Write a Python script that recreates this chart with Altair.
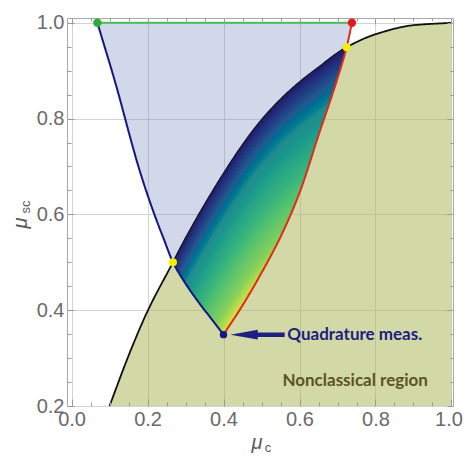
import altair as alt
import numpy as np
import pandas as pd

# ---------------- data ----------------
# black boundary of the nonclassical region
black_x = [0.100, 0.150, 0.200, 0.267, 0.300, 0.350, 0.400, 0.450, 0.500, 0.550, 0.600, 0.650, 0.724, 0.800, 0.900, 1.000]
black_y = [0.200, 0.305, 0.398, 0.500, 0.550, 0.620, 0.685, 0.745, 0.797, 0.840, 0.876, 0.907, 0.949, 0.976, 0.995, 1.000]
# blue curve (left branch)
blue_x = [0.068, 0.087, 0.106, 0.124, 0.141, 0.158, 0.176, 0.196, 0.218, 0.242, 0.267, 0.298, 0.333, 0.368, 0.400]
blue_y = [1.000, 0.950, 0.900, 0.850, 0.800, 0.750, 0.700, 0.650, 0.600, 0.550, 0.500, 0.458, 0.418, 0.382, 0.349]
# red curve (right branch)
red_x = [0.400, 0.450, 0.500, 0.550, 0.600, 0.650, 0.700, 0.724, 0.738]
red_y = [0.349, 0.410, 0.478, 0.553, 0.645, 0.765, 0.884, 0.949, 1.000]
# green top segment
green_x = [0.068, 0.738]
green_y = [1.000, 1.000]
# marked points
point_x = [0.068, 0.738, 0.267, 0.724, 0.400]
point_y = [1.000, 1.000, 0.500, 0.949, 0.349]
point_col = ["#2eaa3a", "#e3191c", "#f4ee00", "#f4ee00", "#10188a"]
point_size = [70, 70, 64, 64, 55]
# annotations
arrow_tail = [0.561]
arrow_base = [0.470]
arrow_head = [0.454]
arrow_y = [0.349]
label_text = ["Quadrature meas.", "Nonclassical region"]
label_x = [0.568, 0.555]
label_y = [0.349, 0.252]
label_col = ["#1c2080", "#5a5424"]
# axes
x_major = [0.0, 0.2, 0.4, 0.6, 0.8, 1.0]
y_major = [0.2, 0.4, 0.6, 0.8, 1.0]
x_minor = [0.05, 0.1, 0.15, 0.25, 0.3, 0.35, 0.45, 0.5, 0.55, 0.65, 0.7, 0.75, 0.85, 0.9, 0.95]
y_minor = [0.25, 0.3, 0.35, 0.45, 0.5, 0.55, 0.65, 0.7, 0.75, 0.85, 0.9, 0.95]
# colour map of the shaded wedge (dark at the black boundary -> yellow)
cmap_pos = [0.0, 0.07, 0.16, 0.28, 0.45, 0.65, 0.85, 0.95, 1.0]
cmap_col = ["#1d1864", "#23337f", "#26578d", "#228a8d", "#28a585", "#4cbf72", "#86d05a", "#c6df45", "#e8e63f"]


def pchip(xs, ys, xq):
    xs = np.asarray(xs, float); ys = np.asarray(ys, float); xq = np.asarray(xq, float)
    h = np.diff(xs); dl = np.diff(ys) / h
    n = len(xs); m = np.zeros(n)
    m[0] = dl[0]; m[-1] = dl[-1]
    for k in range(1, n - 1):
        if dl[k - 1] * dl[k] <= 0:
            m[k] = 0.0
        else:
            w1 = 2 * h[k] + h[k - 1]; w2 = h[k] + 2 * h[k - 1]
            m[k] = (w1 + w2) / (w1 / dl[k - 1] + w2 / dl[k])
    idx = np.clip(np.searchsorted(xs, xq) - 1, 0, n - 2)
    t = (xq - xs[idx]) / h[idx]
    h00 = 2 * t**3 - 3 * t**2 + 1; h10 = t**3 - 2 * t**2 + t
    h01 = -2 * t**3 + 3 * t**2; h11 = t**3 - t**2
    return h00 * ys[idx] + h10 * h[idx] * m[idx] + h01 * ys[idx + 1] + h11 * h[idx] * m[idx + 1]


def black(x):
    return pchip(black_x, black_y, x)


def lower(x):
    x = np.asarray(x, float)
    return np.where(x <= 0.4, pchip(blue_x, blue_y, np.minimum(x, 0.4)), pchip(red_x, red_y, np.maximum(x, 0.4)))


# tables
xs = np.linspace(black_x[0], black_x[-1], 260)
df_black = pd.DataFrame({"x": xs, "y": black(xs)})
df_olive = pd.DataFrame({"x": xs, "y": black(xs), "y2": 0.2})
xs = np.linspace(blue_x[0], blue_x[-1], 220)
df_blue = pd.DataFrame({"x": xs, "y": pchip(blue_x, blue_y, xs)})
xs = np.linspace(red_x[0], red_x[-1], 180)
df_red = pd.DataFrame({"x": xs, "y": pchip(red_x, red_y, xs)})
xs = np.linspace(green_x[0], red_x[-1], 300)
df_bluefill = pd.DataFrame({"x": xs, "y": lower(xs), "y2": 1.0})

xs = np.linspace(0.267, 0.724, 170)
bl = black(xs)
lo = np.minimum(lower(xs), bl)
D = 0.345
N = 60
rows = []
for k in range(N):
    d0 = k * D / N
    d1 = (k + 1) * D / N
    eps = 0.002 if k > 0 else 0.0
    top = np.clip(bl - d0 + eps, lo, bl)
    bot = lo if k == N - 1 else np.clip(bl - d1, lo, bl)
    for xi, a, b in zip(xs, bot, top):
        rows.append((xi, a, b, k, 0.5 * (d0 + d1)))
df_grad = pd.DataFrame(rows, columns=["x", "y", "y2", "band", "d"])

df_pts = pd.DataFrame({"x": point_x, "y": point_y, "c": point_col, "s": point_size})
df_green = pd.DataFrame({"x": green_x, "y": green_y})
df_arrow = pd.DataFrame({"x": arrow_base, "x2": arrow_tail, "y": arrow_y})
df_head = pd.DataFrame({"x": arrow_head, "y": arrow_y})
df_lab = pd.DataFrame({"t": label_text, "x": label_x, "y": label_y, "c": label_col})
one = pd.DataFrame({"a": [0]})

# ---------------- scales / axes ----------------
xsc = alt.Scale(domain=[-0.012, 1.004], nice=False, zero=False)
ysc = alt.Scale(domain=[0.2, 1.01], nice=False, zero=False)
FONT = "Liberation Sans"
TICK = "#9a9a9a"


def tick_axis(orient, values, size, labels=False):
    kw = dict(orient=orient, values=values, title=None, domain=False, grid=False,
              labels=labels, ticks=True, tickSize=size, offset=-size, tickColor=TICK,
              tickWidth=1, zindex=1)
    if labels:
        kw.update(format=".1f", labelFont=FONT, labelFontSize=20, labelColor="#6a6a6a",
                  labelPadding=3, labelFlush=False, labelOverlap=False)
        if orient == "bottom":
            kw.update(labelOffset={"condition": {"test": "datum.value >= 1", "value": -3}, "value": 0})
    return alt.Axis(**kw)


grid_x = alt.Axis(values=x_major, grid=True, gridColor="#d4d4d4", gridWidth=1, labels=False,
                  ticks=False, domain=False, title=None, zindex=0)
grid_y = alt.Axis(values=y_major, grid=True, gridColor="#d4d4d4", gridWidth=1, labels=False,
                  ticks=False, domain=False, title=None, zindex=0)


def X(field, axis):
    return alt.X(field, type="quantitative", scale=xsc, axis=axis)


def Y(field, axis):
    return alt.Y(field, type="quantitative", scale=ysc, axis=axis, stack=None)


olive = alt.Chart(df_olive).mark_area(color="#a7b34d", opacity=0.5).encode(
    x=X("x", grid_x), y=Y("y", grid_y), y2="y2")
bluefill = alt.Chart(df_bluefill).mark_area(color="#708abd", opacity=0.33).encode(
    x=X("x", tick_axis("bottom", x_major, 7, True)), y=Y("y", tick_axis("left", y_major, 7, True)), y2="y2")
blk = alt.Chart(df_black).mark_line(color="#111111", strokeWidth=1.8).encode(
    x=X("x", tick_axis("top", x_major, 6)), y=Y("y", tick_axis("right", y_major, 6)))
grad = alt.Chart(df_grad).mark_area(opacity=1, strokeWidth=0).encode(
    x=X("x", tick_axis("bottom", x_minor, 4)), y=Y("y", tick_axis("left", y_minor, 4)), y2="y2",
    color=alt.Color("d:Q", scale=alt.Scale(domain=[p * D for p in cmap_pos], range=cmap_col), legend=None),
    detail="band:O")
blu = alt.Chart(df_blue).mark_line(color="#16167f", strokeWidth=2).encode(
    x=X("x", tick_axis("top", x_minor, 3)), y=Y("y", tick_axis("right", y_minor, 3)))
red = alt.Chart(df_red).mark_line(color="#e02a1a", strokeWidth=2).encode(
    x=X("x", None), y=Y("y", None))
grn = alt.Chart(df_green).mark_line(color="#4cbf55", strokeWidth=2).encode(
    x=X("x", None), y=Y("y", None))
pts = alt.Chart(df_pts).mark_circle(opacity=1).encode(
    x=X("x", None), y=Y("y", None), color=alt.Color("c:N", scale=None),
    size=alt.Size("s:Q", scale=None))
shaft = alt.Chart(df_arrow).mark_rule(color="#1c2080", strokeWidth=4.5).encode(
    x=X("x", None), x2="x2", y=Y("y", None))
head = alt.Chart(df_head).mark_point(shape="M-1,0L1,-0.36L1,0.36Z", filled=True, opacity=1,
                                     color="#1c2080", size=750, strokeWidth=0).encode(
    x=X("x", None), y=Y("y", None))
labs = alt.Chart(df_lab).mark_text(align="left", baseline="middle", font="Lato", fontWeight="bold",
                                   fontSize=17).encode(
    x=X("x", None), y=Y("y", None), text="t:N", color=alt.Color("c:N", scale=None))

TCOL = "#5a5a5a"
xt1 = alt.Chart(one).mark_text(text="μ", font=FONT, fontStyle="italic", fontSize=20, color=TCOL,
                               align="center", baseline="alphabetic").encode(x=alt.value(190), y=alt.value(431))
xt2 = alt.Chart(one).mark_text(text="c", font=FONT, fontSize=13, color=TCOL,
                               align="center", baseline="alphabetic").encode(x=alt.value(201), y=alt.value(434))
yt1 = alt.Chart(one).mark_text(text="μ", font=FONT, fontStyle="italic", fontSize=20, color=TCOL, angle=270,
                               align="center", baseline="alphabetic").encode(x=alt.value(-40), y=alt.value(205))
yt2 = alt.Chart(one).mark_text(text="sc", font=FONT, fontSize=13, color=TCOL, angle=270,
                               align="center", baseline="alphabetic").encode(x=alt.value(-37), y=alt.value(189))

chart = alt.layer(olive, bluefill, blk, grad, blu, red, grn, shaft, head, pts, labs, xt1, xt2, yt1, yt2).resolve_axis(
    x="independent", y="independent"
).properties(
    width=386, height=388,
    autosize=alt.AutoSizeParams(type="none"),
    padding={"left": 59, "top": 10, "right": 11, "bottom": 50},
).configure_view(stroke="#a8a8a8", strokeWidth=1)

chart.save("out.html", embed_options={"renderer": "svg", "actions": False})
